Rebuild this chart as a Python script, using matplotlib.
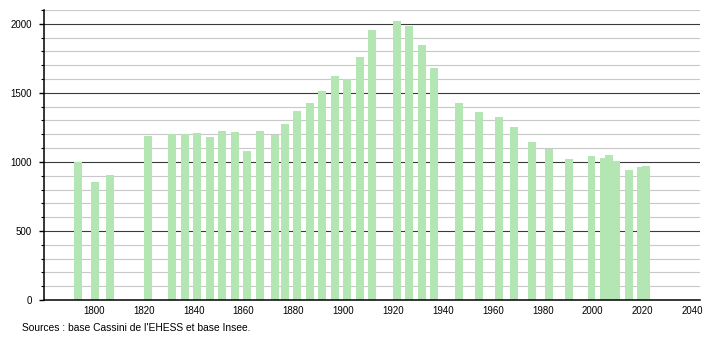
import matplotlib
matplotlib.use("Agg")
import matplotlib.pyplot as plt
from matplotlib.ticker import MultipleLocator

years = [1793, 1800, 1806, 1821, 1831, 1836, 1841, 1846, 1851, 1856, 1861, 1866,
         1872, 1876, 1881, 1886, 1891, 1896, 1901, 1906, 1911, 1921, 1926, 1931,
         1936, 1946, 1954, 1962, 1968, 1975, 1982, 1990, 1999, 2004, 2006, 2009,
         2014, 2019, 2021]
population = [1000, 851, 907, 1185, 1204, 1202, 1212, 1178, 1226, 1214, 1079, 1226,
              1195, 1277, 1371, 1425, 1512, 1625, 1601, 1758, 1952, 2017, 1983, 1845,
              1681, 1425, 1359, 1323, 1253, 1146, 1093, 1023, 1040, 1030, 1047, 1008,
              943, 960, 967]
x_ticks = [1800, 1820, 1840, 1860, 1880, 1900, 1920, 1940, 1960, 1980, 2000, 2020, 2040]
y_ticks = [0, 500, 1000, 1500, 2000]
source_text = "Sources : base Cassini de l'EHESS et base Insee."

plt.rcParams['font.family'] = ['Liberation Sans', 'DejaVu Sans']

fig = plt.figure(figsize=(7.1, 3.4), dpi=100)
ax = fig.add_axes([44 / 710, 1 - 300 / 340, (700 - 44) / 710, (300 - 10) / 340])

ax.set_xlim(1780, 2043)
ax.set_ylim(0, 2100)

# grid lines
for v in range(100, 2101, 100):
    if v % 500 == 0:
        ax.axhline(v, color='#3a3a3a', lw=0.8, zorder=1)
    else:
        ax.axhline(v, color='#c8c8c8', lw=0.8, zorder=1)

ax.bar([y + 0.5 for y in years], population, width=3.2, color='#b3e6b3',
       edgecolor='none', zorder=2)

ax.set_xticks(x_ticks)
ax.set_xticklabels([str(t) for t in x_ticks])
ax.set_yticks(y_ticks)
ax.set_yticklabels([str(t) for t in y_ticks])
ax.yaxis.set_minor_locator(MultipleLocator(100))

ax.tick_params(axis='x', length=0, pad=4, labelsize=7)
ax.tick_params(axis='y', which='major', length=3.6, width=1, pad=5, labelsize=7)
ax.tick_params(axis='y', which='minor', length=2, width=0.8)

for s in ['top', 'right']:
    ax.spines[s].set_visible(False)
ax.spines['left'].set_color('black')
ax.spines['bottom'].set_color('black')
ax.spines['left'].set_linewidth(1.1)
ax.spines['bottom'].set_linewidth(1.1)
ax.spines['left'].set_zorder(3)
ax.spines['bottom'].set_zorder(3)

fig.text(22 / 710, 1 - 328 / 340, source_text, fontsize=7.35, va='center', ha='left')

fig.savefig("out.png", dpi=100)
